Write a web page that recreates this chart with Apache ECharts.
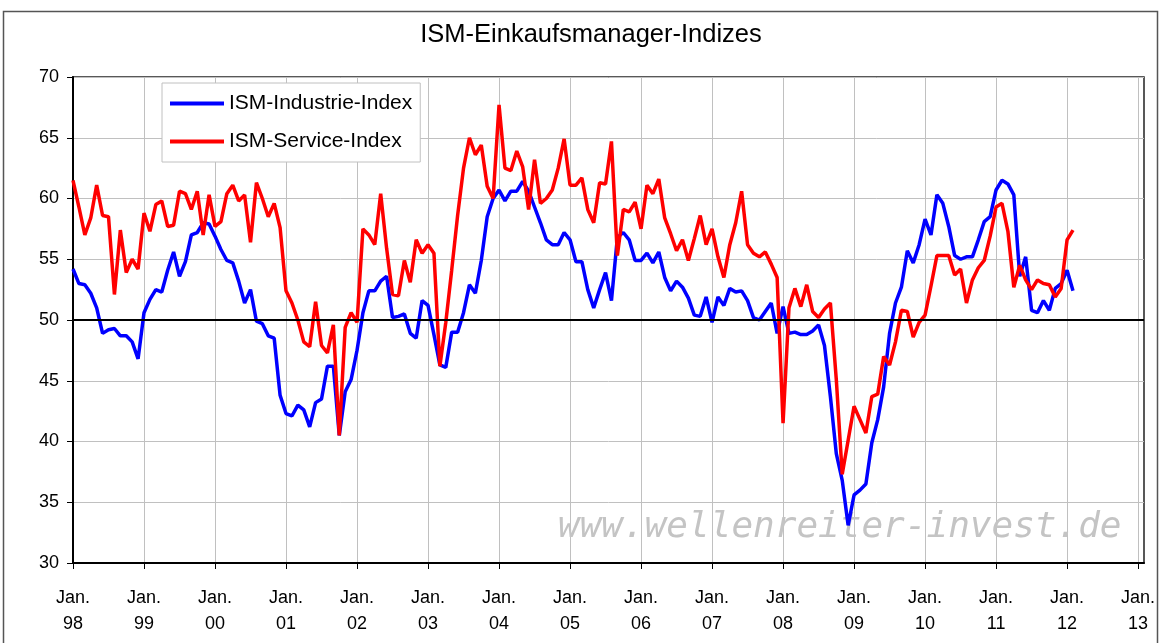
<!DOCTYPE html>
<html>
<head>
<meta charset="utf-8">
<script src="https://cdn.jsdelivr.net/npm/echarts@6/dist/echarts.min.js"></script>
<style>
html,body{margin:0;padding:0;background:#fff;}
#chart{width:1161px;height:643px;}
</style>
</head>
<body>
<div id="chart"></div>
<script>
const titleText = 'ISM-Einkaufsmanager-Indizes';
const seriesNames = ['ISM-Industrie-Index', 'ISM-Service-Index'];
const years = ['98','99','00','01','02','03','04','05','06','07','08','09','10','11','12','13'];
const monthCodes = ['01','02','03','04','05','06','07','08','09','10','11','12'];
const yTicks = {min: 30, max: 70, step: 5};
const referenceLevel = 50;
const watermark = 'www.wellenreiter-invest.de';

// Monthly values Jan 1998 – Feb 2012
const industrie = [
  54.2, 53.0, 52.9, 52.2, 51.0, 48.9, 49.2, 49.3, 48.7, 48.7, 48.2, 46.8,
  50.6, 51.7, 52.5, 52.3, 54.1, 55.6, 53.6, 54.8, 57.0, 57.2, 58.0, 57.9,
  56.9, 55.8, 54.9, 54.7, 53.2, 51.4, 52.5, 49.9, 49.7, 48.7, 48.5, 43.8,
  42.3, 42.1, 43.0, 42.6, 41.2, 43.2, 43.5, 46.2, 46.2, 40.5, 44.1, 45.1,
  47.5, 50.6, 52.4, 52.4, 53.2, 53.6, 50.2, 50.3, 50.5, 48.9, 48.5, 51.6,
  51.2, 48.8, 46.3, 46.1, 49.0, 49.0, 50.6, 52.9, 52.2, 54.9, 58.5, 60.0,
  60.7, 59.8, 60.6, 60.6, 61.4, 60.6, 59.3, 58.0, 56.6, 56.2, 56.2, 57.2,
  56.6, 54.8, 54.8, 52.5, 51.0, 52.5, 53.9, 51.6, 56.8, 57.2, 56.6, 54.9,
  54.9, 55.5, 54.7, 55.6, 53.5, 52.4, 53.2, 52.7, 51.8, 50.4, 50.3, 51.9,
  49.8, 51.9, 51.2, 52.6, 52.3, 52.4, 51.6, 50.2, 50.0, 50.7, 51.4, 48.9,
  51.1, 48.9, 49.0, 48.8, 48.8, 49.1, 49.6, 47.9, 43.7, 39.0, 36.8, 33.1,
  35.6, 36.0, 36.5, 39.9, 41.8, 44.5, 48.9, 51.4, 52.7, 55.7, 54.7, 56.2,
  58.3, 57.0, 60.3, 59.6, 57.7, 55.3, 55.0, 55.2, 55.2, 56.6, 58.1, 58.5,
  60.7, 61.5, 61.2, 60.3, 53.6, 55.2, 50.8, 50.6, 51.6, 50.8, 52.6, 53.0,
  54.1, 52.4
];
const service = [
  61.5, 59.3, 57.0, 58.4, 61.1, 58.6, 58.5, 52.1, 57.4, 53.9, 55.0, 54.2,
  58.8, 57.3, 59.5, 59.8, 57.7, 57.8, 60.6, 60.4, 59.1, 60.6, 57.0, 60.3,
  57.7, 58.1, 60.4, 61.1, 59.8, 60.3, 56.4, 61.3, 60.0, 58.5, 59.6, 57.6,
  52.4, 51.4, 50.0, 48.2, 47.8, 51.5, 47.9, 47.3, 49.6, 40.5, 49.4, 50.6,
  49.8, 57.5, 57.0, 56.2, 60.4, 55.9, 52.1, 52.0, 54.9, 53.1, 56.6, 55.5,
  56.2, 55.5, 46.2, 49.8, 54.1, 58.6, 62.5, 65.0, 63.6, 64.4, 61.0, 60.0,
  67.7, 62.5, 62.3, 63.9, 62.6, 59.1, 63.2, 59.6, 60.0, 60.7, 62.5, 64.9,
  61.1, 61.1, 61.7, 59.1, 58.0, 61.3, 61.2, 64.7, 55.3, 59.1, 58.9, 59.7,
  57.5, 61.1, 60.4, 61.6, 58.4, 57.1, 55.7, 56.6, 54.9, 56.7, 58.6, 56.2,
  57.5, 55.2, 53.5, 56.2, 58.0, 60.6, 56.2, 55.5, 55.2, 55.6, 54.6, 53.5,
  41.5, 51.0, 52.6, 51.1, 52.9, 50.7, 50.2, 50.9, 51.4, 45.1, 37.3, 40.1,
  42.9, 41.8, 40.7, 43.7, 43.9, 47.0, 46.3, 48.2, 50.8, 50.7, 48.6, 49.8,
  50.4, 52.8, 55.3, 55.3, 55.3, 53.7, 54.2, 51.4, 53.3, 54.3, 54.9, 56.9,
  59.3, 59.6, 57.3, 52.7, 54.5, 53.3, 52.5, 53.3, 53.0, 52.9, 51.9, 52.6,
  56.6, 57.4
];

// Axis categories: every month Jan 1998 .. Feb 2013
const categories = [];
years.forEach((yy, k) => {
  monthCodes.forEach((mm, m) => {
    if (k < years.length - 1 || m < 2) categories.push(yy + '-' + mm);
  });
});

const font = '"Liberation Sans", Arial, sans-serif';
const chart = echarts.init(document.getElementById('chart'));
chart.setOption({
  animation: false,
  backgroundColor: '#ffffff',
  title: {
    text: titleText,
    left: 586, top: 17, textAlign: 'center',
    textStyle: {fontFamily: font, fontSize: 25.5, fontWeight: 'normal', color: '#000'}
  },
  legend: {
    data: seriesNames,
    orient: 'vertical',
    left: 162, top: 83,
    padding: [10, 8, 10, 8],
    itemGap: 17,
    itemWidth: 54, itemHeight: 4,
    icon: 'rect',
    backgroundColor: '#fff',
    borderColor: '#c0c0c0', borderWidth: 1,
    textStyle: {fontFamily: font, fontSize: 21, color: '#000'}
  },
  grid: {
    left: 73, right: 17, top: 77, bottom: 80,
    show: true, borderColor: '#222', borderWidth: 1.5,
    containLabel: false
  },
  xAxis: {
    type: 'category',
    data: categories,
    boundaryGap: false,
    axisLine: {lineStyle: {color: '#000', width: 2}},
    axisTick: {show: true, interval: 11, length: 6, lineStyle: {color: '#000', width: 1}},
    splitLine: {show: true, interval: 11, lineStyle: {color: '#c0c0c0', width: 1}},
    axisLabel: {
      interval: 11, margin: 22,
      fontFamily: font, fontSize: 18, color: '#000', lineHeight: 26,
      formatter: v => 'Jan.\n' + v.slice(0, 2)
    }
  },
  yAxis: {
    type: 'value',
    min: yTicks.min, max: yTicks.max, interval: yTicks.step,
    axisLine: {show: true, lineStyle: {color: '#000', width: 2}},
    axisTick: {show: true, inside: false, length: 6, lineStyle: {color: '#000'}},
    splitLine: {show: true, lineStyle: {color: '#c0c0c0', width: 1}},
    axisLabel: {margin: 14, fontFamily: font, fontSize: 18, color: '#000'}
  },
  graphic: [
    {
      type: 'rect', silent: true, z: -1,
      shape: {x: 3.5, y: 11.5, width: 1154, height: 640},
      style: {fill: 'none', stroke: '#555', lineWidth: 1.5}
    },
    {
      type: 'text', silent: true, z: 1,
      left: 558, top: 510,
      style: {
        text: watermark,
        font: 'italic 36px "DejaVu Sans Mono", monospace',
        fill: '#c4c4c4'
      }
    }
  ],
  series: [
    {
      name: seriesNames[0], type: 'line', data: industrie,
      symbol: 'none', color: '#0000ff',
      lineStyle: {color: '#0000ff', width: 3.5},
      z: 3,
      markLine: {
        silent: true, symbol: 'none', label: {show: false},
        lineStyle: {color: '#000', width: 2, type: 'solid'},
        data: [{yAxis: referenceLevel}]
      }
    },
    {
      name: seriesNames[1], type: 'line', data: service,
      symbol: 'none', color: '#ff0000',
      lineStyle: {color: '#ff0000', width: 3.5},
      z: 4
    }
  ]
});
</script>
</body>
</html>
